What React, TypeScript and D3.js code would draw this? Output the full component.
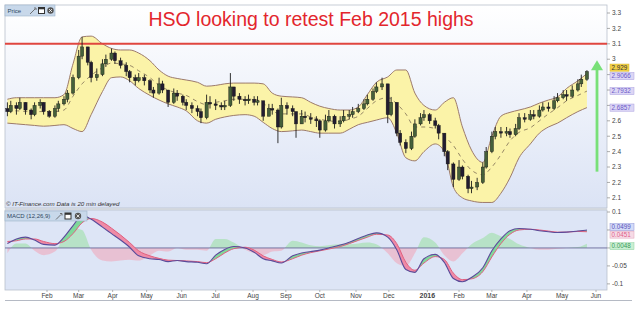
import React from "react";
import * as d3 from "d3";

const W = 641;
const H = 310;

// Data series start (Monday); price bars every 3 weekdays, indicators every 6 weekdays
const START = new Date(2014, 11, 29);
const PRICE_STEP = 3;
const IND_STEP = 6;

const firstOpen = 2.68;
const closes = [
  2.66, 2.70, 2.68, 2.72, 2.67, 2.64, 2.70, 2.72, 2.66, 2.63,
  2.68, 2.71, 2.74, 2.78, 2.88, 3.02, 3.08, 2.98, 2.88, 2.90,
  2.97, 3.00, 3.04, 2.99, 2.96, 2.92, 2.88, 2.86, 2.88, 2.86,
  2.80, 2.78, 2.84, 2.80, 2.72, 2.78, 2.76, 2.72, 2.70, 2.68,
  2.66, 2.62, 2.72, 2.71, 2.70, 2.69, 2.70, 2.82, 2.76, 2.74,
  2.73, 2.74, 2.72, 2.73, 2.63, 2.68, 2.67, 2.56, 2.70, 2.68,
  2.66, 2.58, 2.63, 2.62, 2.61, 2.60, 2.54, 2.60, 2.63, 2.58,
  2.60, 2.63, 2.64, 2.66, 2.68, 2.71, 2.74, 2.79, 2.82, 2.84,
  2.64, 2.72, 2.52, 2.46, 2.42, 2.50, 2.58, 2.62, 2.64, 2.60,
  2.57, 2.52, 2.40, 2.32, 2.22, 2.30, 2.24, 2.16, 2.17, 2.20,
  2.30, 2.40, 2.50, 2.53, 2.52, 2.53, 2.51, 2.55, 2.62, 2.61,
  2.64, 2.63, 2.67, 2.69, 2.68, 2.73, 2.75, 2.77, 2.76, 2.80,
  2.84, 2.87, 2.92,
];
const highs = [
  2.72, 2.73, 2.72, 2.75, 2.72, 2.68, 2.72, 2.74, 2.72, 2.67,
  2.70, 2.73, 2.76, 2.80, 2.90, 3.06, 3.145, 3.08, 2.99, 2.94,
  3.00, 3.03, 3.07, 3.05, 3.01, 2.98, 2.93, 2.90, 2.91, 2.90,
  2.87, 2.82, 2.88, 2.86, 2.80, 2.81, 2.80, 2.77, 2.74, 2.72,
  2.70, 2.68, 2.77, 2.76, 2.74, 2.72, 2.73, 2.91, 2.82, 2.78,
  2.76, 2.77, 2.76, 2.76, 2.73, 2.71, 2.71, 2.68, 2.75, 2.72,
  2.70, 2.66, 2.67, 2.66, 2.65, 2.63, 2.61, 2.64, 2.67, 2.64,
  2.63, 2.67, 2.67, 2.69, 2.71, 2.74, 2.77, 2.81, 2.85, 2.88,
  2.84, 2.755, 2.72, 2.54, 2.48, 2.53, 2.61, 2.65, 2.67, 2.65,
  2.62, 2.58, 2.52, 2.41, 2.33, 2.345, 2.31, 2.25, 2.21, 2.23,
  2.33, 2.43, 2.53, 2.56, 2.56, 2.56, 2.55, 2.58, 2.65, 2.65,
  2.67, 2.67, 2.70, 2.72, 2.72, 2.76, 2.78, 2.80, 2.80, 2.83,
  2.87, 2.90, 2.929,
];
const lows = [
  2.63, 2.65, 2.64, 2.67, 2.64, 2.61, 2.63, 2.68, 2.64, 2.62,
  2.62, 2.66, 2.70, 2.72, 2.77, 2.87, 3.00, 2.96, 2.85, 2.86,
  2.89, 2.95, 2.99, 2.97, 2.94, 2.89, 2.85, 2.83, 2.85, 2.83,
  2.78, 2.75, 2.77, 2.78, 2.69, 2.71, 2.73, 2.70, 2.67, 2.65,
  2.63, 2.585, 2.61, 2.68, 2.67, 2.67, 2.67, 2.69, 2.73, 2.71,
  2.70, 2.71, 2.70, 2.70, 2.60, 2.63, 2.64, 2.455, 2.55, 2.64,
  2.63, 2.49, 2.58, 2.59, 2.58, 2.56, 2.49, 2.53, 2.59, 2.55,
  2.56, 2.59, 2.61, 2.62, 2.65, 2.67, 2.70, 2.73, 2.78, 2.80,
  2.585, 2.63, 2.50, 2.44, 2.39, 2.41, 2.49, 2.57, 2.60, 2.58,
  2.55, 2.48, 2.37, 2.28, 2.17, 2.21, 2.22, 2.13, 2.13, 2.15,
  2.19, 2.29, 2.39, 2.48, 2.49, 2.50, 2.49, 2.50, 2.54, 2.59,
  2.60, 2.61, 2.62, 2.66, 2.66, 2.67, 2.72, 2.74, 2.73, 2.75,
  2.79, 2.82, 2.86,
];

const upperBand = [
  2.74, 2.75, 2.75, 2.75, 2.75, 2.75, 2.77, 2.97, 3.145, 3.15,
  3.10, 3.07, 3.06, 3.06, 3.04, 2.99, 2.93, 2.89, 2.875, 2.865,
  2.85, 2.825, 2.83, 2.84, 2.845, 2.845, 2.845, 2.84, 2.78, 2.76,
  2.755, 2.75, 2.72, 2.695, 2.68, 2.67, 2.67, 2.69, 2.77, 2.85,
  2.885, 2.93, 2.93, 2.78, 2.70, 2.67, 2.72, 2.75, 2.56, 2.41,
  2.33, 2.50, 2.63, 2.655, 2.67, 2.69, 2.715, 2.735, 2.755, 2.81,
  2.86, 2.9066,
];
const midBand = [
  2.66, 2.665, 2.66, 2.66, 2.66, 2.66, 2.67, 2.76, 2.84, 2.895,
  2.945, 2.975, 2.97, 2.96, 2.925, 2.88, 2.83, 2.80, 2.78, 2.765,
  2.725, 2.705, 2.72, 2.73, 2.74, 2.74, 2.74, 2.715, 2.665, 2.645,
  2.645, 2.645, 2.625, 2.61, 2.60, 2.595, 2.61, 2.63, 2.68, 2.73,
  2.75, 2.71, 2.645, 2.56, 2.56, 2.55, 2.50, 2.44, 2.35, 2.28,
  2.25, 2.30, 2.38, 2.47, 2.525, 2.555, 2.60, 2.645, 2.685, 2.73,
  2.765, 2.7932,
];
const lowerBand = [
  2.585, 2.58, 2.575, 2.57, 2.565, 2.57, 2.575, 2.55, 2.53, 2.64,
  2.79, 2.88, 2.885, 2.86, 2.81, 2.765, 2.735, 2.71, 2.69, 2.665,
  2.60, 2.585, 2.61, 2.625, 2.635, 2.64, 2.63, 2.59, 2.55, 2.53,
  2.535, 2.54, 2.53, 2.52, 2.52, 2.52, 2.545, 2.575, 2.59, 2.605,
  2.62, 2.52, 2.36, 2.34, 2.40, 2.45, 2.40, 2.17, 2.10, 2.08,
  2.07, 2.07, 2.13, 2.23, 2.36, 2.45, 2.52, 2.56, 2.585, 2.62,
  2.66, 2.6857,
];

const macdLine = [
  0.012, 0.025, 0.03, 0.022, 0.01, 0.008, 0.03, 0.062, 0.09, 0.08,
  0.058, 0.04, 0.022, 0.002, -0.022, -0.03, -0.032, -0.038, -0.035, -0.038,
  -0.04, -0.044, -0.02, -0.004, 0.004, 0.0, -0.012, -0.03, -0.036, -0.042,
  -0.022, -0.014, -0.01, -0.006, 0.0, 0.008, 0.016, 0.026, 0.036, 0.042,
  0.03, -0.005, -0.06, -0.068, -0.03, -0.018, -0.04, -0.085, -0.094, -0.082,
  -0.055, -0.008, 0.025, 0.048, 0.054, 0.052, 0.048, 0.045, 0.043, 0.044,
  0.047, 0.0499,
];
const signalLine = [
  0.018, 0.02, 0.025, 0.025, 0.018, 0.012, 0.018, 0.04, 0.07, 0.082,
  0.072, 0.055, 0.036, 0.015, -0.008, -0.022, -0.029, -0.034, -0.035, -0.036,
  -0.038, -0.041, -0.03, -0.014, -0.002, 0.002, -0.006, -0.022, -0.032, -0.039,
  -0.03, -0.02, -0.013, -0.008, -0.003, 0.004, 0.012, 0.021, 0.03, 0.038,
  0.036, 0.012, -0.04, -0.062, -0.042, -0.024, -0.032, -0.07, -0.088, -0.086,
  -0.066, -0.025, 0.012, 0.038, 0.05, 0.052, 0.05, 0.047, 0.044, 0.044,
  0.046, 0.0451,
];

const priceTicks = [2.1, 2.2, 2.3, 2.4, 2.5, 2.6, 2.7, 2.8, 2.9, 3.0, 3.1, 3.2, 3.3];
const macdTicks = [-0.1, -0.05, 0, 0.05, 0.1];
const monthTicks = [
  ["2015-02-02", "Feb"], ["2015-03-02", "Mar"], ["2015-04-01", "Apr"], ["2015-05-01", "May"],
  ["2015-06-01", "Jun"], ["2015-07-01", "Jul"], ["2015-08-03", "Aug"], ["2015-09-01", "Sep"],
  ["2015-10-01", "Oct"], ["2015-11-02", "Nov"], ["2015-12-01", "Dec"], ["2016-01-04", "2016"],
  ["2016-02-01", "Feb"], ["2016-03-01", "Mar"], ["2016-04-01", "Apr"], ["2016-05-02", "May"],
  ["2016-06-01", "Jun"],
];
const resistance = 3.1;
const lastPrice = 2.929;
const arrowFrom = 2.27;
const arrowTo = 3.0;

const FONT = "'Liberation Sans', Arial, sans-serif";

const weekday = (n: number) =>
  d3.timeDay.offset(START, Math.floor(n / 5) * 7 + (n % 5));
const parse = d3.timeParse("%Y-%m-%d");

function spread(items: { y: number }[], gap: number) {
  const sorted = [...items].sort((a, b) => a.y - b.y);
  for (let it = 0; it < 20; it++) {
    for (let i = 1; i < sorted.length; i++) {
      const d = sorted[i].y - sorted[i - 1].y;
      if (d < gap) {
        const m = (sorted[i].y + sorted[i - 1].y) / 2;
        sorted[i - 1].y = m - gap / 2;
        sorted[i].y = m + gap / 2;
      }
    }
  }
  return items;
}

export default function App() {
  const PL = 5, PR = 607;
  const PT = 5, PB = 208;
  const MT = 210, MB = 290;

  const x = d3.scaleTime()
    .domain([new Date(2015, 1, 2), new Date(2016, 5, 1)])
    .range([47, 596]);
  const yP = d3.scaleLinear().domain([2.034, 3.352]).range([PB, PT]);
  const yM = d3.scaleLinear().domain([-0.117, 0.1056]).range([MB, MT]);

  const xi = (j: number) => x(weekday(j * IND_STEP));
  const xk = (k: number) => x(weekday(k * PRICE_STEP));

  const bandArea = d3.area<number>()
    .x((_, j) => xi(j)).y0((_, j) => yP(lowerBand[j])).y1((d) => yP(d))
    .curve(d3.curveMonotoneX)(upperBand) as string;
  const lineGen = (arr: number[], ys: (v: number) => number) =>
    d3.line<number>().x((_, j) => xi(j)).y((d) => ys(d)).curve(d3.curveMonotoneX)(arr) as string;

  const histScale = 2.5;
  const hist = macdLine.map((m, j) => (m - signalLine[j]) * histScale);
  const histArea = d3.area<number>().x((_, j) => xi(j)).y0(yM(0)).y1((d) => yM(d))
    .curve(d3.curveMonotoneX)(hist) as string;

  const betweenArea = d3.area<number>().x((_, j) => xi(j))
    .y0((_, j) => yM(signalLine[j])).y1((d) => yM(d)).curve(d3.curveMonotoneX)(macdLine) as string;
  const belowMacd = d3.area<number>().x((_, j) => xi(j)).y0(MB + 5).y1((d) => yM(d))
    .curve(d3.curveMonotoneX)(macdLine) as string;
  const aboveMacd = d3.area<number>().x((_, j) => xi(j)).y0(MT - 5).y1((d) => yM(d))
    .curve(d3.curveMonotoneX)(macdLine) as string;

  const nLast = upperBand.length - 1;
  const priceLabels = spread([
    { y: yP(lastPrice), v: lastPrice.toFixed(3), fill: "#f2d046", stroke: "#d8b530", color: "#333" },
    { y: yP(upperBand[nLast]), v: upperBand[nLast].toFixed(4), fill: "#dcd6f5", stroke: "#aaa0e0", color: "#6a58c8" },
    { y: yP(midBand[nLast]), v: midBand[nLast].toFixed(4), fill: "#dcd6f5", stroke: "#aaa0e0", color: "#6a58c8" },
    { y: yP(lowerBand[nLast]), v: lowerBand[nLast].toFixed(4), fill: "#dcd6f5", stroke: "#aaa0e0", color: "#6a58c8" },
  ], 8.5) as any[];
  const mLast = macdLine.length - 1;
  const macdLabels = spread([
    { y: yM(macdLine[mLast]), v: macdLine[mLast].toFixed(4), fill: "#d4dcf8", stroke: "#8a90d8", color: "#5a50b8" },
    { y: yM(signalLine[mLast]), v: signalLine[mLast].toFixed(4), fill: "#f6dbe6", stroke: "#e0a0b8", color: "#e0608a" },
    { y: yM(macdLine[mLast] - signalLine[mLast]), v: (macdLine[mLast] - signalLine[mLast]).toFixed(4), fill: "#c9efd2", stroke: "#90d0a0", color: "#3a9a5a" },
  ], 7.5) as any[];

  const fmtTick = (v: number) => (Math.round(v * 100) / 100).toString();
  const hidden = (ty: number, labels: any[]) => labels.some((l) => Math.abs(l.y - ty) < 7);

  return (
    <svg width={W} height={H} style={{ position: "absolute", left: 0, top: 0, background: "#fff" }}
      fontFamily={FONT}>
      <defs>
        <linearGradient id="pgrad" x1="0" y1="0" x2="0" y2="1">
          <stop offset="0" stopColor="#ffffff" />
          <stop offset="1" stopColor="#dbe3f5" />
        </linearGradient>
        <clipPath id="pclip"><rect x={PL} y={PT} width={PR - PL} height={PB - PT} /></clipPath>
        <clipPath id="mclip"><rect x={PL} y={MT} width={PR - PL} height={MB - MT} /></clipPath>
        <clipPath id="clipBelowMacd"><path d={belowMacd} /></clipPath>
        <clipPath id="clipAboveMacd"><path d={aboveMacd} /></clipPath>
        <clipPath id="clipPos"><rect x={PL} y={MT} width={PR - PL} height={yM(0) - MT} /></clipPath>
        <clipPath id="clipNeg"><rect x={PL} y={yM(0)} width={PR - PL} height={MB - yM(0)} /></clipPath>
      </defs>

      {/* price panel */}
      <rect x={PL} y={PT} width={PR - PL} height={PB - PT} fill="url(#pgrad)" stroke="#b9c0cc" strokeWidth={0.8} />
      <g clipPath="url(#pclip)">
        <path d={bandArea} fill="#fbf3a8" stroke="none" />
        <path d={lineGen(upperBand, yP)} fill="none" stroke="#9c7a6c" strokeWidth={1} />
        <path d={lineGen(lowerBand, yP)} fill="none" stroke="#9c7a6c" strokeWidth={1} />
        <path d={lineGen(midBand, yP)} fill="none" stroke="#8a7a5c" strokeWidth={0.9} strokeDasharray="4,4" />
        <line x1={PL} x2={PR} y1={yP(resistance)} y2={yP(resistance)} stroke="#e0463f" strokeWidth={2} />
        {closes.map((c, k) => {
          const o = k === 0 ? firstOpen : closes[k - 1];
          const cx = xk(k);
          const hi = Math.max(highs[k], o, c);
          const lo = Math.min(lows[k], o, c);
          const up = c >= o;
          const top = yP(Math.max(o, c));
          const bh = Math.max(1.2, yP(Math.min(o, c)) - top);
          return (
            <g key={k}>
              <line x1={cx} x2={cx} y1={yP(hi)} y2={yP(lo)} stroke="#1c1c1c" strokeWidth={0.9} />
              <rect x={cx - 1.6} y={top} width={3.2} height={bh}
                fill={up ? "#45603a" : "#221c30"} stroke="#151515" strokeWidth={0.4} />
            </g>
          );
        })}
      </g>
      {/* title */}
      <text x={311} y={26} textAnchor="middle" fontSize={19.5} fill="#e3262d">HSO looking to retest Feb 2015 highs</text>

      {/* green arrow */}
      <line x1={597} x2={597} y1={yP(arrowFrom)} y2={yP(arrowTo) + 6} stroke="#78e078" strokeWidth={2.8} />
      <path d={`M${591},${yP(arrowTo) + 11} L${597},${yP(arrowTo) + 1} L${603},${yP(arrowTo) + 11} Z`} fill="#78e078" />

      {/* price tag */}
      <rect x={5} y={5} width={50} height={11} fill="#c8d8ea" stroke="#9fb4ca" strokeWidth={0.6} />
      <text x={7.5} y={12.8} fontSize={6} fill="#2e4660">Price</text>
      <path d="M30,14 L35,9 M34,8 l2,0 l0,2" stroke="#555" strokeWidth={0.8} fill="none" />
      <rect x={38.5} y={7.5} width={6} height={6} fill="#fff" stroke="#333" strokeWidth={1} />
      <rect x={38.5} y={7.5} width={6} height={1.8} fill="#333" />
      <circle cx={50.5} cy={10.5} r={3.2} fill="#555" />
      <path d="M49,9 L52,12 M52,9 L49,12" stroke="#fff" strokeWidth={0.8} />

      {/* copyright */}
      <text x={6} y={206} fontSize={6.2} fontStyle="italic" fill="#333">© IT-Finance.com  Data is 20 min delayed</text>

      {/* price axis */}
      {priceTicks.map((t) => (
        <g key={t}>
          <line x1={PR} x2={PR + 3} y1={yP(t)} y2={yP(t)} stroke="#777" strokeWidth={0.6} />
          {!hidden(yP(t), priceLabels) && (
            <text x={PR + 5} y={yP(t)} dy="0.35em" fontSize={6.5} fill="#444">{fmtTick(t)}</text>
          )}
        </g>
      ))}
      {priceLabels.map((l, i) => (
        <g key={i}>
          <rect x={PR + 3} y={l.y - 3.6} width={l.v.length > 5 ? 24 : 19} height={7.2} fill={l.fill} stroke={l.stroke} strokeWidth={0.5} />
          <text x={PR + 4.5} y={l.y} dy="0.35em" fontSize={6.3} fill={l.color}>{l.v}</text>
        </g>
      ))}

      {/* MACD panel */}
      <line x1={PL} x2={PR} y1={MT - 1} y2={MT - 1} stroke="#b9c0cc" strokeWidth={0.8} />
      <rect x={PL} y={MT} width={PR - PL} height={MB - MT} fill="#dde5f6" stroke="#b9c0cc" strokeWidth={0.8} />
      <g clipPath="url(#mclip)">
        <g clipPath="url(#clipPos)">
          <path d={histArea} fill="#9fe0a8" opacity={0.6} />
        </g>
        <g clipPath="url(#clipNeg)">
          <path d={histArea} fill="#f0a8bc" opacity={0.6} />
        </g>
        <line x1={PL} x2={PR} y1={yM(0)} y2={yM(0)} stroke="#6a6a9a" strokeWidth={0.9} />
        <g clipPath="url(#clipBelowMacd)">
          <path d={betweenArea} fill="#7fd89a" />
        </g>
        <g clipPath="url(#clipAboveMacd)">
          <path d={betweenArea} fill="#ef8aa6" />
        </g>
        <path d={lineGen(signalLine, yM)} fill="none" stroke="#e0607f" strokeWidth={1} />
        <path d={lineGen(macdLine, yM)} fill="none" stroke="#5a4a9a" strokeWidth={1.1} />
      </g>

      {/* MACD tag */}
      <rect x={5} y={211} width={82} height={10} fill="#c8d8ea" stroke="#9fb4ca" strokeWidth={0.6} />
      <text x={7} y={218.3} fontSize={6} fill="#2e4660">MACD (12,26,9)</text>
      <path d="M56,219.5 L61,214.5 M60,213.5 l2,0 l0,2" stroke="#555" strokeWidth={0.8} fill="none" />
      <rect x={65} y={213} width={6} height={6} fill="#fff" stroke="#333" strokeWidth={1} />
      <rect x={65} y={213} width={6} height={1.8} fill="#333" />
      <circle cx={78} cy={216} r={3.2} fill="#555" />
      <path d="M76.5,214.5 L79.5,217.5 M79.5,214.5 L76.5,217.5" stroke="#fff" strokeWidth={0.8} />

      {/* MACD axis */}
      {macdTicks.map((t) => (
        <g key={t}>
          <line x1={PR} x2={PR + 3} y1={yM(t)} y2={yM(t)} stroke="#777" strokeWidth={0.6} />
          {!hidden(yM(t), macdLabels) && (
            <text x={PR + 5} y={yM(t)} dy="0.35em" fontSize={6.5} fill="#444">{fmtTick(t)}</text>
          )}
        </g>
      ))}
      {macdLabels.map((l, i) => (
        <g key={i}>
          <rect x={PR + 3} y={l.y - 3.5} width={24} height={7} fill={l.fill} stroke={l.stroke} strokeWidth={0.5} />
          <text x={PR + 4.5} y={l.y} dy="0.35em" fontSize={6.3} fill={l.color}>{l.v}</text>
        </g>
      ))}

      {/* x axis */}
      {monthTicks.map(([d, lab]) => {
        const tx = x(parse(d) as Date);
        return (
          <g key={d}>
            <line x1={tx} x2={tx} y1={MB} y2={MB + 2} stroke="#888" strokeWidth={0.6} />
            <text x={tx} y={297.5} textAnchor="middle" fontSize={lab === "2016" ? 7 : 6.5}
              fontWeight={lab === "2016" ? "bold" : "normal"} fill="#444">{lab}</text>
          </g>
        );
      })}
      <line x1={PL} x2={632} y1={300.5} y2={300.5} stroke="#b5bac4" strokeWidth={1} />
    </svg>
  );
}
